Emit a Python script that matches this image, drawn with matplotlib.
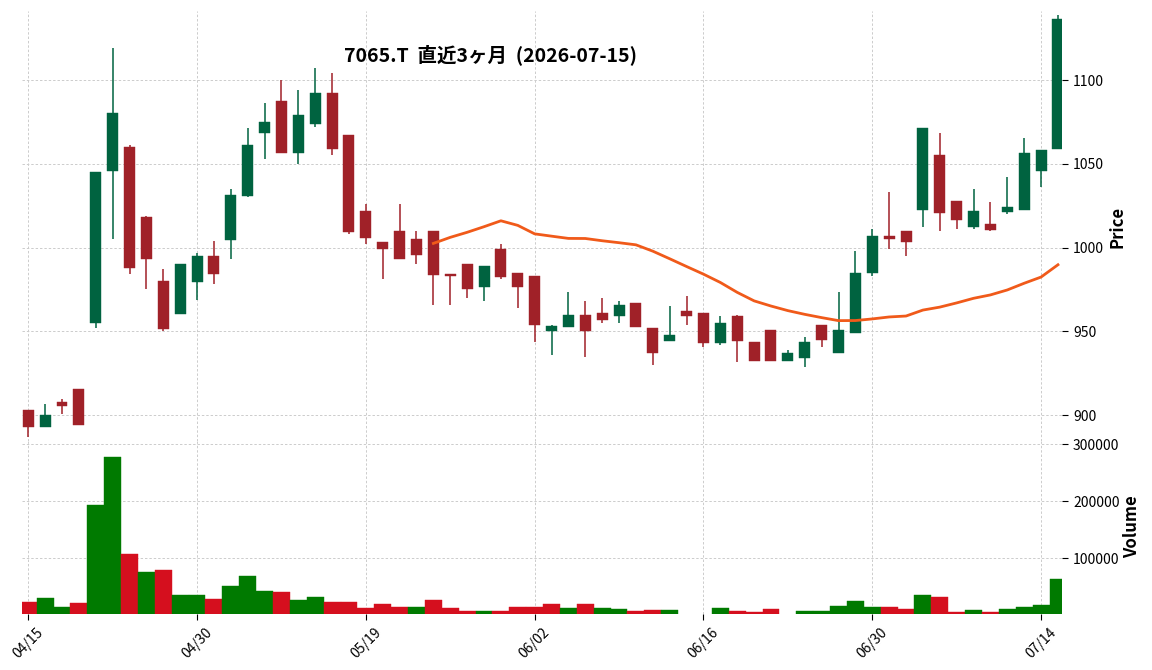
import numpy as np
import pandas as pd
import matplotlib
matplotlib.use("Agg")
import matplotlib.pyplot as plt
from matplotlib.ticker import FixedLocator, FuncFormatter

plt.rcParams['font.family'] = ['Noto Sans CJK JP', 'DejaVu Sans']

# ---------------- data ----------------
dates = ['04/15', '04/16', '04/17', '04/20', '04/21', '04/22', '04/23', '04/24', '04/27', '04/28',
         '04/30', '05/01', '05/07', '05/08', '05/11', '05/12', '05/13', '05/14', '05/15', '05/18',
         '05/19', '05/20', '05/21', '05/22', '05/25', '05/26', '05/27', '05/28', '05/29', '06/01',
         '06/02', '06/03', '06/04', '06/05', '06/08', '06/09', '06/10', '06/11', '06/12', '06/15',
         '06/16', '06/17', '06/18', '06/19', '06/22', '06/23', '06/24', '06/25', '06/26', '06/29',
         '06/30', '07/01', '07/02', '07/03', '07/06', '07/07', '07/08', '07/09', '07/10', '07/13',
         '07/14', '07/15']

opens = [903.2, 892.6, 908.0, 915.7, 954.7, 1046.1, 1060.2, 1018.4, 980.2, 960.5,
         979.6, 995.1, 1004.7, 1030.9, 1068.8, 1087.7, 1056.8, 1074.1, 1092.4, 1067.4,
         1022.0, 1003.5, 1010.0, 1005.3, 1009.7, 984.2, 990.3, 976.8, 999.3, 985.0,
         983.2, 950.0, 952.7, 959.9, 961.1, 958.9, 967.1, 952.1, 944.4, 962.3,
         961.1, 942.8, 959.3, 943.8, 950.9, 932.4, 933.8, 953.9, 936.8, 948.8,
         984.6, 1007.1, 1010.0, 1022.6, 1055.4, 1028.0, 1012.6, 1014.2, 1021.6, 1022.6,
         1046.1, 1059.2]

highs = [903.2, 906.6, 909.8, 915.7, 1045.3, 1119.1, 1061.2, 1018.8, 987.2, 990.3,
         996.7, 1004.1, 1034.9, 1071.3, 1086.3, 1100.0, 1094.0, 1107.2, 1104.4, 1067.4,
         1026.0, 1003.5, 1026.0, 1009.9, 1009.7, 984.2, 990.3, 989.2, 1002.1, 985.0,
         983.2, 953.9, 973.8, 967.9, 969.9, 968.3, 967.1, 952.1, 965.1, 971.0,
         961.1, 959.1, 959.9, 943.8, 950.9, 938.8, 946.6, 953.9, 973.8, 997.9,
         1011.0, 1033.1, 1010.0, 1071.5, 1068.8, 1028.0, 1034.9, 1027.2, 1042.1, 1065.6,
         1058.4, 1139.2]

lows = [886.7, 892.6, 900.6, 894.2, 951.9, 1005.1, 984.2, 975.2, 950.5, 960.5,
        968.5, 978.0, 993.1, 1030.1, 1052.8, 1056.8, 1049.9, 1071.9, 1055.2, 1008.1,
        1002.1, 981.2, 993.5, 990.1, 965.7, 965.7, 969.9, 967.9, 981.2, 963.9,
        943.6, 935.6, 952.7, 934.6, 954.9, 954.9, 952.7, 929.7, 944.4, 953.7,
        940.6, 941.8, 931.6, 932.4, 932.0, 932.4, 928.7, 940.6, 936.8, 948.8,
        983.2, 999.1, 994.9, 1012.6, 1009.9, 1011.0, 1011.0, 1009.7, 1020.0, 1022.6,
        1036.1, 1059.2]

closes = [892.6, 900.2, 905.6, 894.2, 1045.3, 1080.5, 987.6, 993.5, 951.5, 990.3,
          995.1, 984.4, 1031.5, 1061.4, 1075.1, 1056.8, 1079.3, 1092.4, 1059.2, 1009.1,
          1005.9, 999.3, 993.5, 995.9, 983.8, 982.8, 975.6, 989.2, 982.6, 976.8,
          953.8, 953.2, 959.9, 950.3, 956.5, 965.9, 952.7, 936.8, 948.0, 959.3,
          942.8, 955.1, 944.4, 932.4, 932.0, 937.2, 943.8, 944.6, 950.9, 985.0,
          1007.1, 1004.9, 1003.1, 1071.5, 1021.0, 1016.6, 1022.0, 1010.6, 1024.4, 1056.6,
          1058.4, 1136.4]

nan = np.nan
volumes = [23400, 30400, 14600, 21600, 193600, 277800, 107600, 76000, 79500, 35700,
           35700, 28700, 51500, 69000, 42700, 40900, 26900, 32200, 23400, 23400,
           12900, 19900, 14600, 14600, 26900, 12900, 7600, 7600, 7600, 14600,
           14600, 19900, 12900, 19900, 12900, 11100, 7600, 9400, 9400, nan,
           nan, 12900, 7600, 5800, 11100, nan, 7600, 7600, 16400, 25100,
           14600, 14600, 11100, 35700, 32200, 5800, 9400, 5800, 11100, 14600,
           18100, 63700]

ma_window = 25
title = "7065.T  直近3ヶ月  (2026-07-15)"
price_ticks = [900, 950, 1000, 1050, 1100]
volume_ticks = [100000, 200000, 300000]

# ---------------- styling ----------------
UP = '#006340'
DOWN = '#a02128'
VUP = '#007a00'
VDOWN = '#d50f1e'
MA_COLOR = '#f05a1a'
GRID = dict(color='#cccccc', linestyle=(0, (2.5, 2)), linewidth=0.7)

W, H = 1152, 670
fig = plt.figure(figsize=(W / 100, H / 100), dpi=100)
fig.patch.set_facecolor('white')

left_px, right_px = 22, 1062
p_top, p_bot = 11, 441
v_top, v_bot = 441, 614
axp = fig.add_axes([left_px / W, 1 - p_bot / H, (right_px - left_px) / W, (p_bot - p_top) / H])
axv = fig.add_axes([left_px / W, 1 - v_bot / H, (right_px - left_px) / W, (v_bot - v_top) / H], sharex=axp)

o = np.array(opens); h = np.array(highs); l = np.array(lows); c = np.array(closes)
v = np.array(volumes, dtype=float)
x = np.arange(len(dates))

up = c >= o
ccol = np.where(up, UP, DOWN)
axp.vlines(x, l, h, colors=ccol, linewidth=1.1, zorder=2)
body_b = np.minimum(o, c)
body_h = np.maximum(np.abs(c - o), 0.4)
axp.bar(x, body_h, width=0.65, bottom=body_b, color=ccol, edgecolor=ccol, linewidth=0.3, zorder=3)

ma = pd.Series(c).rolling(ma_window).mean()
axp.plot(x, ma, color=MA_COLOR, linewidth=2.0, zorder=4)

prev = np.concatenate([[o[0]], c[:-1]])
vcol = np.where(c >= prev, VUP, VDOWN)
axv.bar(x, np.nan_to_num(v), width=1.0, color=vcol, edgecolor=vcol, linewidth=0.3, zorder=3)

# axes limits
axp.set_xlim(-0.37, len(x) - 0.76)
axp.set_ylim(884.5, 1141.4)
axv.set_ylim(0.3 * np.nanmin(v), 1.1 * np.nanmax(v))

for ax in (axp, axv):
    for s in ax.spines.values():
        s.set_visible(False)
    ax.set_axisbelow(True)
    ax.grid(True, **GRID)
    ax.yaxis.tick_right()
    ax.tick_params(axis='y', direction='out', length=4, width=0.8, labelsize=10, pad=4, colors='black')
    ax.set_facecolor('white')

axp.yaxis.set_major_locator(FixedLocator(price_ticks))
axp.yaxis.set_major_formatter(FuncFormatter(lambda val, pos: f"{val:.0f}"))
axv.yaxis.set_major_locator(FixedLocator(volume_ticks))
axv.yaxis.set_major_formatter(FuncFormatter(lambda val, pos: f"{val:.0f}"))

tick_idx = x[::10]
axv.xaxis.set_major_locator(FixedLocator(tick_idx))
axv.set_xticklabels([dates[i] for i in tick_idx], rotation=45, ha='center', fontsize=10)
axv.tick_params(axis='x', direction='out', length=4, width=0.8, pad=4)
axp.tick_params(axis='x', length=0, labelbottom=False)

fig.text(491 / W, 1 - 55 / H, title, ha='center', va='center', fontsize=14, fontweight='bold')
fig.text(1118 / W, 1 - 227 / H, 'Price', rotation=90, ha='center', va='center', fontsize=12, fontweight='bold')
fig.text(1132 / W, 1 - 527 / H, 'Volume', rotation=90, ha='center', va='center', fontsize=12, fontweight='bold')

fig.savefig('out.png', dpi=100, facecolor='white')
